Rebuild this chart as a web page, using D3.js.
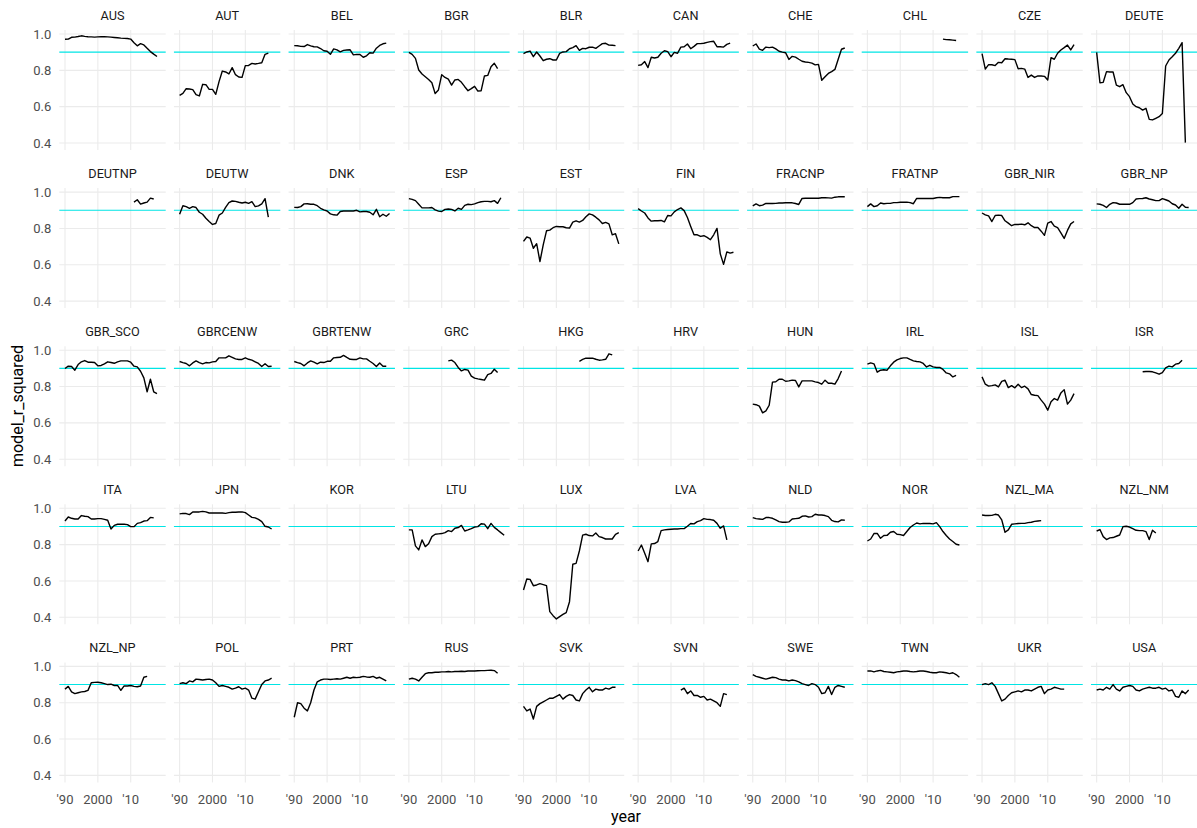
<!DOCTYPE html>
<html>
<head>
<meta charset="utf-8">
<script src="https://cdn.jsdelivr.net/npm/d3@7"></script>
<style>
  html, body { margin: 0; padding: 0; background: #fff; }
  svg { display: block; font-family: Roboto, "Noto Sans", sans-serif; }
</style>
</head>
<body>
<svg id="chart" width="1197" height="828"></svg>
<script>
// Facet panels in display order (10 per row)
const countries = [
  "AUS","AUT","BEL","BGR","BLR","CAN","CHE","CHL","CZE","DEUTE",
  "DEUTNP","DEUTW","DNK","ESP","EST","FIN","FRACNP","FRATNP","GBR_NIR","GBR_NP",
  "GBR_SCO","GBRCENW","GBRTENW","GRC","HKG","HRV","HUN","IRL","ISL","ISR",
  "ITA","JPN","KOR","LTU","LUX","LVA","NLD","NOR","NZL_MA","NZL_NM",
  "NZL_NP","POL","PRT","RUS","SVK","SVN","SWE","TWN","UKR","USA"
];

// First year of each series
const startYears = [
  1990,1990,1990,1990,1990,1990,1990,2013,1990,1990,
  2011,1990,1990,1990,1990,1990,1990,1990,1990,1990,
  1990,1990,1990,2002,2007,1990,1990,1990,1990,2004,
  1990,1990,1990,1990,1990,1990,1990,1990,1990,1990,
  1990,1990,1990,1990,1990,2003,1990,1990,1990,1990
];

// model_r_squared per year, one array per panel (same order as countries)
const r2Values = [
  // AUS
  [0.971,0.972,0.982,0.983,0.986,0.990,0.987,0.985,0.984,0.983,
   0.984,0.985,0.985,0.984,0.983,0.981,0.979,0.977,0.976,0.975,
   0.972,0.952,0.935,0.947,0.940,0.921,0.903,0.889,0.876],
  // AUT
  [0.662,0.673,0.699,0.697,0.694,0.666,0.659,0.723,0.721,0.695,
   0.695,0.668,0.738,0.796,0.791,0.780,0.815,0.776,0.763,0.761,
   0.826,0.827,0.838,0.835,0.838,0.842,0.888,0.895],
  // BEL
  [0.936,0.935,0.932,0.931,0.942,0.935,0.930,0.929,0.920,0.908,
   0.905,0.888,0.918,0.913,0.902,0.910,0.912,0.913,0.885,0.888,
   0.887,0.872,0.880,0.897,0.895,0.922,0.937,0.946,0.950],
  // BGR
  [0.899,0.888,0.866,0.802,0.780,0.765,0.750,0.732,0.672,0.692,
   0.776,0.761,0.752,0.719,0.747,0.750,0.734,0.710,0.688,0.699,
   0.712,0.686,0.688,0.769,0.772,0.820,0.839,0.809],
  // BLR
  [0.892,0.901,0.906,0.875,0.901,0.879,0.853,0.861,0.864,0.857,
   0.857,0.893,0.901,0.903,0.919,0.925,0.936,0.910,0.921,0.919,
   0.927,0.928,0.921,0.934,0.947,0.949,0.939,0.938,0.936],
  // CAN
  [0.827,0.831,0.848,0.815,0.872,0.868,0.872,0.894,0.908,0.903,
   0.875,0.899,0.894,0.928,0.930,0.945,0.919,0.932,0.947,0.947,
   0.949,0.954,0.958,0.960,0.930,0.930,0.928,0.943,0.950],
  // CHE
  [0.934,0.945,0.917,0.910,0.928,0.925,0.928,0.918,0.905,0.900,
   0.897,0.860,0.877,0.873,0.861,0.850,0.846,0.844,0.840,0.830,
   0.833,0.745,0.765,0.783,0.793,0.805,0.861,0.916,0.923],
  // CHL
  [0.972,0.969,0.968,0.966,0.964],
  // CZE
  [0.892,0.807,0.831,0.831,0.826,0.844,0.842,0.864,0.862,0.861,
   0.859,0.809,0.811,0.807,0.761,0.774,0.761,0.769,0.769,0.767,
   0.747,0.870,0.861,0.894,0.912,0.925,0.939,0.912,0.941],
  // DEUTE
  [0.899,0.732,0.734,0.793,0.791,0.791,0.719,0.710,0.721,0.677,
   0.655,0.615,0.600,0.594,0.581,0.591,0.530,0.527,0.536,0.545,
   0.563,0.824,0.857,0.875,0.894,0.921,0.952,0.402],
  // DEUTNP
  [0.945,0.958,0.934,0.940,0.945,0.967,0.962],
  // DEUTW
  [0.878,0.925,0.920,0.911,0.920,0.915,0.889,0.878,0.856,0.838,
   0.822,0.827,0.873,0.885,0.916,0.942,0.951,0.949,0.944,0.940,
   0.944,0.938,0.947,0.920,0.924,0.935,0.964,0.862],
  // DNK
  [0.916,0.915,0.920,0.935,0.936,0.933,0.933,0.925,0.911,0.902,
   0.896,0.880,0.875,0.873,0.893,0.896,0.896,0.896,0.896,0.900,
   0.891,0.893,0.893,0.889,0.875,0.905,0.864,0.878,0.867,0.882],
  // ESP
  [0.964,0.960,0.953,0.933,0.913,0.913,0.913,0.915,0.902,0.895,
   0.893,0.905,0.907,0.905,0.896,0.911,0.905,0.927,0.933,0.931,
   0.935,0.942,0.947,0.949,0.949,0.947,0.953,0.938,0.969],
  // EST
  [0.729,0.753,0.747,0.691,0.716,0.618,0.709,0.787,0.791,0.804,
   0.811,0.809,0.809,0.804,0.802,0.835,0.842,0.835,0.844,0.864,
   0.880,0.875,0.862,0.847,0.827,0.833,0.825,0.765,0.771,0.715],
  // FIN
  [0.909,0.896,0.885,0.858,0.840,0.842,0.842,0.844,0.836,0.871,
   0.869,0.891,0.904,0.913,0.898,0.860,0.811,0.765,0.765,0.756,
   0.760,0.751,0.738,0.765,0.800,0.660,0.602,0.671,0.664,0.669],
  // FRACNP
  [0.924,0.935,0.925,0.928,0.938,0.937,0.937,0.938,0.940,0.940,
   0.941,0.942,0.941,0.937,0.932,0.965,0.966,0.966,0.966,0.966,
   0.966,0.969,0.969,0.968,0.967,0.972,0.974,0.974,0.974],
  // FRATNP
  [0.920,0.935,0.920,0.925,0.940,0.936,0.938,0.938,0.942,0.942,
   0.944,0.944,0.945,0.942,0.936,0.965,0.965,0.965,0.965,0.965,
   0.965,0.969,0.971,0.969,0.969,0.969,0.975,0.975,0.975],
  // GBR_NIR
  [0.885,0.875,0.869,0.838,0.871,0.873,0.871,0.842,0.829,0.815,
   0.822,0.822,0.824,0.820,0.831,0.815,0.805,0.805,0.785,0.762,
   0.829,0.838,0.813,0.805,0.776,0.745,0.789,0.825,0.838],
  // GBR_NP
  [0.935,0.933,0.927,0.915,0.933,0.942,0.940,0.933,0.933,0.933,
   0.933,0.942,0.962,0.964,0.965,0.969,0.962,0.958,0.953,0.953,
   0.964,0.958,0.951,0.936,0.929,0.911,0.933,0.916,0.915],
  // GBR_SCO
  [0.899,0.912,0.910,0.890,0.921,0.936,0.943,0.934,0.934,0.932,
   0.914,0.916,0.925,0.936,0.932,0.928,0.936,0.941,0.941,0.941,
   0.934,0.912,0.908,0.884,0.848,0.771,0.840,0.771,0.761],
  // GBRCENW
  [0.938,0.932,0.927,0.914,0.930,0.941,0.932,0.925,0.932,0.930,
   0.936,0.938,0.958,0.958,0.958,0.969,0.961,0.952,0.949,0.949,
   0.958,0.950,0.945,0.936,0.927,0.910,0.925,0.910,0.912],
  // GBRTENW
  [0.938,0.932,0.927,0.914,0.930,0.941,0.934,0.925,0.934,0.932,
   0.939,0.939,0.958,0.960,0.961,0.971,0.960,0.950,0.949,0.949,
   0.958,0.952,0.952,0.939,0.927,0.910,0.930,0.912,0.912],
  // GRC
  [0.941,0.945,0.932,0.905,0.886,0.894,0.890,0.857,0.846,0.842,
   0.839,0.835,0.866,0.872,0.895,0.877],
  // HKG
  [0.939,0.949,0.956,0.956,0.956,0.950,0.945,0.947,0.950,0.980,0.974],
  // HRV
  [],
  // HUN
  [0.703,0.700,0.692,0.655,0.666,0.697,0.824,0.826,0.840,0.840,
   0.829,0.831,0.835,0.833,0.798,0.831,0.831,0.831,0.831,0.826,
   0.822,0.813,0.835,0.818,0.818,0.813,0.844,0.886],
  // IRL
  [0.923,0.930,0.925,0.879,0.890,0.892,0.890,0.914,0.934,0.947,
   0.954,0.958,0.958,0.949,0.941,0.938,0.936,0.927,0.908,0.917,
   0.908,0.905,0.905,0.894,0.875,0.870,0.853,0.861],
  // ISL
  [0.853,0.813,0.802,0.805,0.809,0.798,0.828,0.835,0.794,0.805,
   0.793,0.813,0.794,0.802,0.787,0.756,0.752,0.750,0.725,0.703,
   0.670,0.716,0.734,0.725,0.765,0.783,0.703,0.725,0.761],
  // ISR
  [0.881,0.883,0.883,0.881,0.875,0.868,0.877,0.903,0.912,0.908,0.923,0.927,0.945],
  // ITA
  [0.930,0.952,0.945,0.941,0.941,0.960,0.956,0.954,0.941,0.941,
   0.943,0.943,0.939,0.934,0.886,0.906,0.912,0.912,0.912,0.910,
   0.899,0.899,0.917,0.921,0.930,0.932,0.950,0.947],
  // JPN
  [0.969,0.972,0.971,0.965,0.980,0.980,0.980,0.983,0.980,0.974,
   0.974,0.974,0.974,0.974,0.972,0.976,0.978,0.978,0.980,0.980,
   0.976,0.963,0.950,0.947,0.939,0.927,0.901,0.897,0.886],
  // KOR
  [],
  // LTU
  [0.881,0.881,0.793,0.771,0.826,0.789,0.805,0.844,0.857,0.859,
   0.861,0.866,0.877,0.872,0.890,0.894,0.906,0.875,0.881,0.888,
   0.897,0.899,0.915,0.913,0.888,0.917,0.895,0.881,0.866,0.852],
  // LUX
  [0.550,0.611,0.609,0.574,0.578,0.585,0.580,0.574,0.431,0.409,
   0.391,0.404,0.416,0.426,0.486,0.692,0.697,0.765,0.852,0.857,
   0.850,0.848,0.864,0.844,0.839,0.831,0.831,0.831,0.857,0.866],
  // LVA
  [0.765,0.798,0.752,0.706,0.804,0.806,0.817,0.877,0.881,0.883,
   0.885,0.886,0.886,0.888,0.888,0.901,0.916,0.914,0.927,0.932,
   0.943,0.939,0.938,0.934,0.917,0.890,0.903,0.826],
  // NLD
  [0.949,0.943,0.941,0.939,0.949,0.949,0.945,0.936,0.927,0.923,
   0.923,0.925,0.941,0.943,0.945,0.956,0.958,0.952,0.954,0.967,
   0.963,0.963,0.960,0.954,0.934,0.927,0.925,0.936,0.934],
  // NOR
  [0.820,0.831,0.861,0.862,0.835,0.850,0.851,0.868,0.872,0.857,
   0.855,0.850,0.872,0.894,0.908,0.919,0.914,0.917,0.916,0.916,
   0.914,0.921,0.899,0.872,0.850,0.831,0.817,0.802,0.798],
  // NZL_MA
  [0.963,0.960,0.960,0.961,0.967,0.963,0.936,0.868,0.881,0.912,
   0.914,0.916,0.917,0.917,0.921,0.923,0.928,0.930,0.932],
  // NZL_NM
  [0.875,0.883,0.844,0.828,0.837,0.839,0.846,0.853,0.899,0.901,
   0.897,0.888,0.879,0.877,0.877,0.872,0.828,0.879,0.864],
  // NZL_NP
  [0.875,0.890,0.860,0.850,0.855,0.860,0.862,0.868,0.910,0.912,
   0.913,0.910,0.905,0.900,0.902,0.895,0.895,0.868,0.893,0.892,
   0.895,0.890,0.888,0.892,0.940,0.945],
  // POL
  [0.905,0.910,0.905,0.920,0.915,0.930,0.928,0.925,0.928,0.930,
   0.925,0.910,0.890,0.895,0.890,0.885,0.875,0.880,0.888,0.875,
   0.880,0.870,0.825,0.820,0.860,0.900,0.920,0.925,0.935],
  // PRT
  [0.720,0.800,0.795,0.770,0.755,0.800,0.870,0.915,0.925,0.930,
   0.930,0.928,0.930,0.932,0.930,0.935,0.940,0.935,0.940,0.938,
   0.940,0.945,0.942,0.940,0.945,0.935,0.940,0.930,0.920],
  // RUS
  [0.930,0.935,0.930,0.920,0.940,0.960,0.965,0.965,0.968,0.968,
   0.970,0.970,0.972,0.970,0.972,0.972,0.973,0.972,0.975,0.975,
   0.975,0.976,0.977,0.977,0.978,0.979,0.977,0.962],
  // SVK
  [0.780,0.755,0.765,0.710,0.780,0.795,0.805,0.815,0.825,0.825,
   0.835,0.845,0.820,0.835,0.845,0.840,0.815,0.810,0.850,0.870,
   0.885,0.860,0.875,0.870,0.870,0.880,0.875,0.885,0.885],
  // SVN
  [0.870,0.880,0.850,0.865,0.840,0.840,0.830,0.835,0.815,0.820,
   0.810,0.800,0.780,0.850,0.845],
  // SWE
  [0.955,0.945,0.940,0.935,0.930,0.935,0.940,0.938,0.930,0.925,
   0.925,0.920,0.925,0.922,0.915,0.905,0.900,0.895,0.905,0.900,
   0.885,0.850,0.855,0.890,0.845,0.885,0.895,0.890,0.885],
  // TWN
  [0.975,0.975,0.970,0.975,0.978,0.972,0.970,0.968,0.965,0.970,
   0.972,0.975,0.975,0.972,0.970,0.972,0.975,0.975,0.972,0.968,
   0.965,0.965,0.970,0.968,0.965,0.960,0.965,0.955,0.940],
  // UKR
  [0.900,0.905,0.900,0.910,0.890,0.850,0.810,0.820,0.840,0.855,
   0.860,0.865,0.860,0.870,0.870,0.865,0.875,0.885,0.890,0.850,
   0.870,0.875,0.885,0.880,0.875,0.875],
  // USA
  [0.870,0.875,0.870,0.885,0.875,0.900,0.875,0.865,0.885,0.890,
   0.895,0.890,0.870,0.865,0.875,0.880,0.885,0.880,0.880,0.885,
   0.875,0.880,0.865,0.870,0.835,0.830,0.865,0.850,0.870]
];

const yTicks = [0.4, 0.6, 0.8, 1.0];
const xTicks = [1990, 2000, 2010];
const xTickLabels = ["'90", "2000", "'10"];
const referenceLevel = 0.9;

// ---- layout ----
const svg = d3.select("#chart");
const nCols = 10;
const panelW = 106.4, panelH = 120;
const colStep = 114.63, rowStep = 158.1;
const left0 = 59.3, top0 = 30;

const x = d3.scaleLinear().domain([1988.27, 2020.65]).range([0, panelW]);
const y = d3.scaleLinear().domain([0.3615, 1.022]).range([panelH, 0]);

const gridColor = "#ebebeb";
const nRows = Math.ceil(countries.length / nCols);

const line = d3.line()
  .x(d => x(d.year))
  .y(d => y(d.value));

countries.forEach((name, i) => {
  const col = i % nCols, row = Math.floor(i / nCols);
  const g = svg.append("g")
    .attr("transform", `translate(${left0 + col * colStep},${top0 + row * rowStep})`);

  // grid
  g.selectAll("line.hgrid").data(yTicks).join("line")
    .attr("x1", 0).attr("x2", panelW)
    .attr("y1", d => y(d)).attr("y2", d => y(d))
    .attr("stroke", gridColor).attr("stroke-width", 1.1);
  g.selectAll("line.vgrid").data(xTicks).join("line")
    .attr("x1", d => x(d)).attr("x2", d => x(d))
    .attr("y1", 0).attr("y2", panelH)
    .attr("stroke", gridColor).attr("stroke-width", 1.1);

  // strip label
  g.append("text")
    .attr("x", panelW / 2).attr("y", -10)
    .attr("text-anchor", "middle")
    .attr("font-size", 12.7)
    .attr("fill", "#1a1a1a")
    .text(name);

  // reference line at 0.9
  g.append("line")
    .attr("x1", 0).attr("x2", panelW)
    .attr("y1", y(referenceLevel)).attr("y2", y(referenceLevel))
    .attr("stroke", "#00e5e5").attr("stroke-width", 1.1);

  // series
  const pts = r2Values[i].map((v, k) => ({ year: startYears[i] + k, value: v }));
  if (pts.length) {
    g.append("path")
      .datum(pts)
      .attr("d", line)
      .attr("fill", "none")
      .attr("stroke", "#000")
      .attr("stroke-width", 1.4)
      .attr("stroke-linejoin", "round");
  }

  // y-axis labels on first column
  if (col === 0) {
    g.selectAll("text.ytick").data(yTicks).join("text")
      .attr("x", -8).attr("y", d => y(d))
      .attr("dy", "0.35em")
      .attr("text-anchor", "end")
      .attr("font-size", 13)
      .attr("fill", "#4d4d4d")
      .text(d => d3.format(".1f")(d));
  }
  // x-axis labels on bottom row
  if (row === nRows - 1) {
    g.selectAll("text.xtick").data(xTicks).join("text")
      .attr("x", d => x(d)).attr("y", panelH + 22)
      .attr("text-anchor", "middle")
      .attr("font-size", 13)
      .attr("fill", "#4d4d4d")
      .text((d, k) => xTickLabels[k]);
  }
});

// axis titles
svg.append("text")
  .attr("x", 626).attr("y", 822)
  .attr("text-anchor", "middle")
  .attr("font-size", 16)
  .attr("fill", "#000")
  .text("year");

svg.append("text")
  .attr("transform", "translate(23,406) rotate(-90)")
  .attr("text-anchor", "middle")
  .attr("font-size", 16)
  .attr("fill", "#000")
  .text("model_r_squared");
</script>
</body>
</html>
